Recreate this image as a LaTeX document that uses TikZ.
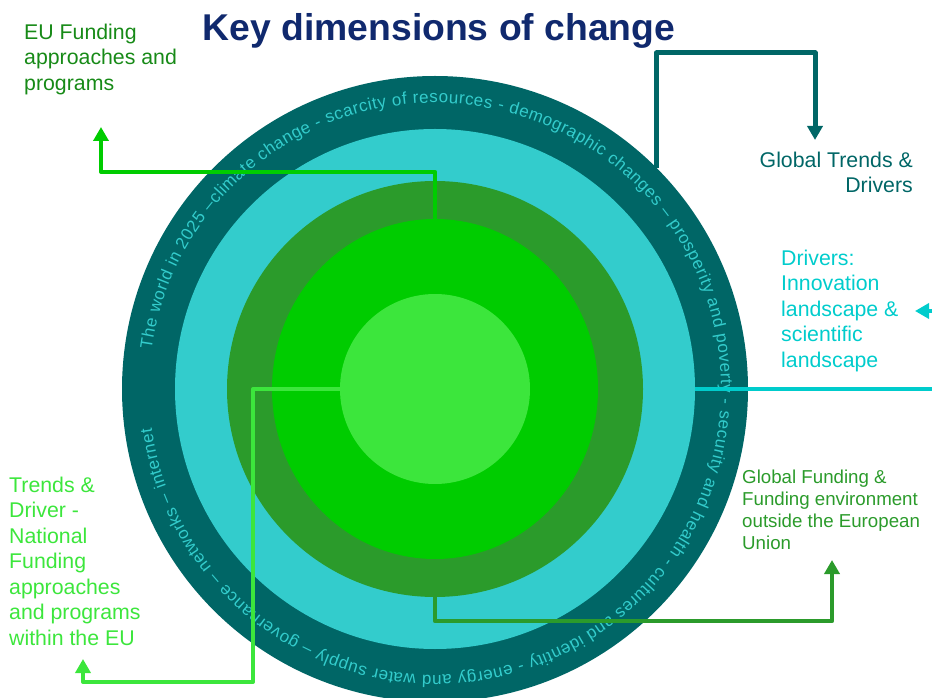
\documentclass[tikz,border=0pt]{standalone}
\usepackage{fontspec}
\setmainfont{Liberation Sans}
\usepackage{tikz}
\usetikzlibrary{arrows.meta,shapes.geometric,decorations.text}
\definecolor{deepteal}{HTML}{006666}
\definecolor{aqua}{HTML}{33CCCC}
\definecolor{drivercyan}{HTML}{00CCCC}
\definecolor{forest}{HTML}{2B9B2B}
\definecolor{leaf}{HTML}{00CC00}
\definecolor{lightleaf}{HTML}{3CE63C}
\definecolor{navy}{HTML}{10296E}
\definecolor{eutext}{HTML}{178A17}

\begin{document}
\begin{tikzpicture}[x=1pt,y=1pt,
  ring/.style={circle,inner sep=0pt,draw=none},
  link/.style={line width=4pt,line join=round,-{Triangle[width=15pt,length=14pt]}},
  lbl/.style={inner sep=0pt,font=\fontsize{21.3}{25.5}\selectfont}]
  \useasboundingbox (0,0) rectangle (932,697);
  \clip (0,0) rectangle (932,697);
  \coordinate (c) at (435,308);
  % rings, outermost first
  \node[ring,fill=deepteal,minimum size=626] (trendRing) at (c) {};
  \node[ring,fill=aqua,minimum size=520] (innovRing) at (c) {};
  \node[ring,fill=forest,minimum size=416] (globalRing) at (c) {};
  \node[ellipse,inner sep=0pt,fill=leaf,minimum width=326,minimum height=340] (euRing) at (c) {};
  \node[ring,fill=lightleaf,minimum size=190] (natCore) at (c) {};
  % text running round the outer ring
  \path[decorate,decoration={text along path,text align={fit to path},
    text={|\fontsize{17}{17}\selectfont\color{aqua}|The world in 2025 –climate change - scarcity of resources - demographic changes – prosperity and poverty - security and health - cultures and identity - energy and water supply – governance – networks – internet}}]
    (c) ++(172:286) arc[start angle=172,end angle=-172,radius=286];

  \coordinate (euTip) at (101,570);
  \coordinate (trBend) at (815,644);
  \coordinate (trTip) at (815,557);
  \coordinate (drBend) at (950,308);
  \coordinate (drTip) at (915,386);
  \coordinate (gfTip) at (832,137);
  \coordinate (tdBend) at (253,15);
  \coordinate (tdTip) at (83,38);
  \draw[link,leaf] (euRing.north) -- ++(0,47) -| (euTip);
  \draw[link,deepteal,line width=5pt] (trendRing.45) |- (trBend) -- (trTip);
  \draw[link,drivercyan] (innovRing.east) -- (drBend) |- (drTip);
  \draw[link,forest] (globalRing.south) -- ++(0,-24) -| (gfTip);
  \draw[link,lightleaf] (natCore.west) -| (tdBend) -| (tdTip);

  \node[inner sep=0pt,anchor=base,text=navy,font=\fontsize{37.3}{44}\selectfont\bfseries] (title) at (439,656) {Key dimensions of change};
  \node[lbl,anchor=north west,align=left,text=eutext] (euText) at (24,675.9) {\strut EU Funding\\approaches and\\programs};
  \node[lbl,anchor=north east,align=right,text=deepteal] (trText) at (913,547.9) {\strut Global Trends \&\\Drivers};
  \node[lbl,anchor=north west,align=left,text=drivercyan] (drText) at (781,449.9) {\strut Drivers:\\Innovation\\landscape \&\\scientific\\landscape};
  \node[inner sep=0pt,anchor=north west,align=left,text=forest,font=\fontsize{18.7}{22}\selectfont] (gfText) at (742,229.4) {\strut Global Funding \&\\Funding environment\\outside the European\\Union};
  \node[lbl,anchor=north west,align=left,text=lightleaf] (tdText) at (9,222.9) {\strut Trends \&\\Driver -\\National\\Funding\\approaches\\and programs\\within the EU};
\end{tikzpicture}
\end{document}
